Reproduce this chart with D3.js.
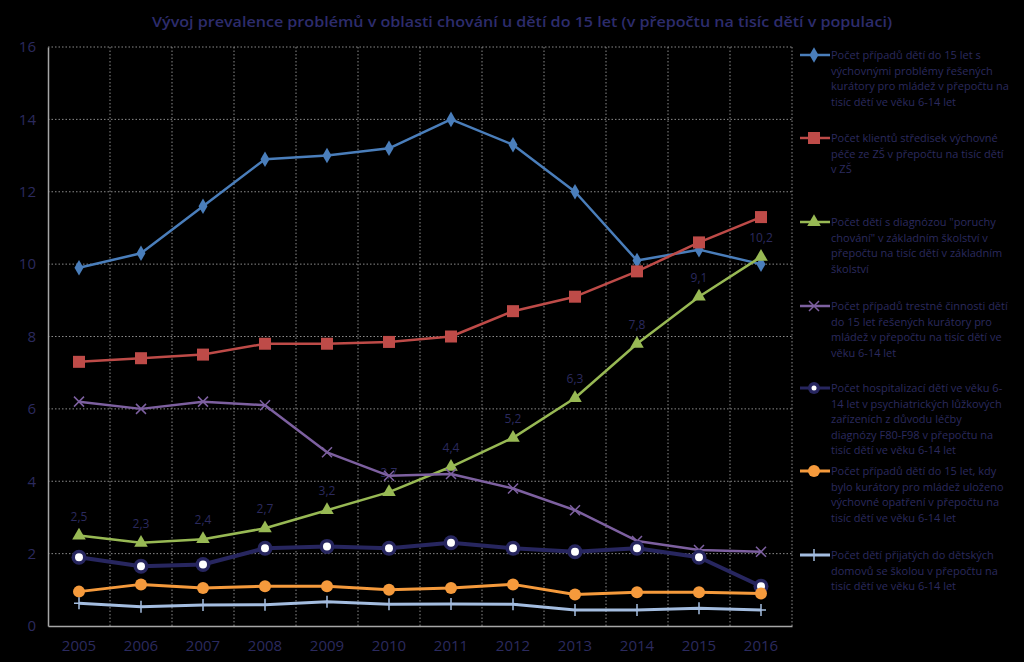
<!DOCTYPE html>
<html><head><meta charset="utf-8">
<script src="https://cdn.jsdelivr.net/npm/d3@7"></script>
<style>
html,body{margin:0;padding:0;background:#000;}
svg{display:block;}
text{font-family:"Open Sans","Noto Sans",sans-serif;}
</style></head>
<body>
<svg id="chart" width="1024" height="662"></svg>
<script>
const title = "Vývoj prevalence problémů v oblasti chování u dětí do 15 let (v přepočtu na tisíc dětí v populaci)";
const years = ["2005","2006","2007","2008","2009","2010","2011","2012","2013","2014","2015","2016"];
const yTicks = [0,2,4,6,8,10,12,14,16];

const s1 = [9.9,10.3,11.6,12.9,13.0,13.2,14.0,13.3,12.0,10.1,10.4,10.0];
const s2 = [7.3,7.4,7.5,7.8,7.8,7.85,8.0,8.7,9.1,9.8,10.6,11.3];
const s3 = [2.5,2.3,2.4,2.7,3.2,3.7,4.4,5.2,6.3,7.8,9.1,10.2];
const s4 = [6.2,6.0,6.2,6.1,4.8,4.15,4.2,3.8,3.2,2.35,2.1,2.05];
const s5 = [1.9,1.65,1.7,2.15,2.2,2.15,2.3,2.15,2.05,2.15,1.9,1.1];
const s6 = [0.95,1.15,1.05,1.1,1.1,1.0,1.05,1.15,0.87,0.93,0.93,0.9];
const s7 = [0.63,0.53,0.58,0.59,0.67,0.6,0.61,0.6,0.44,0.44,0.49,0.44];

const names = [
  ["Počet případů dětí do 15 let s","výchovnými  problémy řešených","kurátory pro mládež v přepočtu na","tisíc dětí ve věku 6-14 let"],
  ["Počet klientů středisek výchovné","péče ze ZŠ v přepočtu na tisíc dětí","v ZŠ"],
  ["Počet dětí s diagnózou \"poruchy","chování\" v základním školství v","přepočtu na tisíc dětí v základním","školství"],
  ["Počet případů trestné činnosti dětí","do 15 let  řešených kurátory pro","mládež v přepočtu na tisíc dětí ve","věku 6-14 let"],
  ["Počet hospitalizací dětí ve věku 6-","14 let v psychiatrických lůžkových","zařízeních  z důvodu léčby","diagnózy F80-F98 v přepočtu na","tisíc dětí ve věku 6-14 let"],
  ["Počet případů dětí do 15 let, kdy","bylo kurátory pro mládež uloženo","výchovné opatření v přepočtu na","tisíc dětí ve věku 6-14 let"],
  ["Počet dětí přijatých do dětských","domovů se školou v přepočtu na","tisíc dětí ve věku 6-14 let"]
];

const series = [
  {values:s1, color:"#4a7ebb", width:2.5, marker:"diamond"},
  {values:s2, color:"#be4b48", width:2.5, marker:"square"},
  {values:s3, color:"#98b954", width:2.5, marker:"triangle", labels:true},
  {values:s4, color:"#7d60a0", width:2.5, marker:"x"},
  {values:s5, color:"#27265f", width:4, marker:"ring"},
  {values:s6, color:"#f59a3c", width:3, marker:"circle"},
  {values:s7, color:"#a4bde0", width:3, marker:"plus"}
];
const legendY = [55, 138, 222, 306, 388, 471, 555];

const textColor = "#2b2a5e";
const svg = d3.select("#chart");
const m = {l:48, r:792, t:47, b:626};

const x = d3.scaleBand().domain(years).range([m.l, m.r]);
const y = d3.scaleLinear().domain([0,16]).range([m.b, m.t]);

// gridlines
const grid = svg.append("g");
grid.selectAll("line.h").data(yTicks.filter(d=>d>0)).join("line")
  .attr("x1", m.l).attr("x2", m.r).attr("y1", d=>y(d)).attr("y2", d=>y(d))
  .attr("stroke","#8a8a8a").attr("stroke-width",1).attr("stroke-dasharray","1.5,2");
grid.selectAll("line.v").data(years.map(d=>x(d)+x.bandwidth())).join("line")
  .attr("x1", d=>d).attr("x2", d=>d).attr("y1", m.t).attr("y2", m.b)
  .attr("stroke","#8a8a8a").attr("stroke-width",1).attr("stroke-dasharray","1.5,2");

// data labels for green series (drawn beneath lines)
const lab = svg.append("g");
series.filter(s=>s.labels).forEach(s => {
  s.values.forEach((v,i) => {
    lab.append("text").attr("x", x(years[i]) + x.bandwidth()/2).attr("y", y(v)-15).attr("text-anchor","middle")
      .attr("fill", textColor).style("font-size","12px").text(String(v).replace(".",","));
  });
});

// axes
const yAxis = svg.append("g").attr("transform",`translate(${m.l},0)`)
  .call(d3.axisLeft(y).tickValues(yTicks).tickSize(0).tickPadding(12));
yAxis.select(".domain").attr("stroke","#a6a6a6").attr("stroke-width",1.5);
yAxis.selectAll("text").attr("fill",textColor).style("font-size","15px");

const xAxis = svg.append("g").attr("transform",`translate(0,${m.b})`)
  .call(d3.axisBottom(x).tickSize(0).tickPadding(14));
xAxis.select(".domain").attr("stroke","#a6a6a6").attr("stroke-width",1.5);
xAxis.selectAll("text").attr("fill",textColor).style("font-size","15px");

// title
svg.append("text").attr("x", 522).attr("y", 27).attr("text-anchor","middle")
  .attr("fill","#2d2c6c").style("font-size","15px").style("font-weight","600")
  .attr("textLength", 740).attr("lengthAdjust","spacingAndGlyphs").text(title);

function drawMarker(g, type, cx, cy, color, small) {
  if (type==="diamond") {
    g.append("path").attr("d", d3.symbol(d3.symbolDiamond, 70)()).attr("transform",`translate(${cx},${cy})`).attr("fill",color);
  } else if (type==="square") {
    g.append("rect").attr("x",cx-6).attr("y",cy-6).attr("width",12).attr("height",12).attr("fill",color);
  } else if (type==="triangle") {
    g.append("path").attr("d", d3.symbol(d3.symbolTriangle, 80)()).attr("transform",`translate(${cx},${cy})`).attr("fill",color);
  } else if (type==="x") {
    g.append("path").attr("d",`M${cx-5},${cy-5}L${cx+5},${cy+5}M${cx-5},${cy+5}L${cx+5},${cy-5}`).attr("stroke",color).attr("stroke-width",1.5);
  } else if (type==="ring") {
    g.append("circle").attr("cx",cx).attr("cy",cy).attr("r",small?6:7.5).attr("fill",color);
    g.append("circle").attr("cx",cx).attr("cy",cy).attr("r",small?2.5:4).attr("fill","#fff");
  } else if (type==="circle") {
    g.append("circle").attr("cx",cx).attr("cy",cy).attr("r",6).attr("fill",color);
  } else if (type==="plus") {
    g.append("path").attr("d",`M${cx-5},${cy}L${cx+5},${cy}M${cx},${cy-6}L${cx},${cy+6}`).attr("stroke",color).attr("stroke-width",1.5);
  }
}

const cxOf = (i) => x(years[i]) + x.bandwidth()/2;
const line = d3.line().x((d,i)=>cxOf(i)).y(d=>y(d));

series.forEach(s => {
  const g = svg.append("g");
  g.append("path").datum(s.values).attr("d", line).attr("fill","none")
    .attr("stroke", s.color).attr("stroke-width", s.width).attr("stroke-linejoin","round");
  s.values.forEach((v,i) => drawMarker(g, s.marker, cxOf(i), y(v), s.color));
});

// legend
const leg = svg.append("g");
series.forEach((s,k) => {
  const ly = legendY[k];
  leg.append("line").attr("x1",800).attr("x2",830).attr("y1",ly).attr("y2",ly)
    .attr("stroke",s.color).attr("stroke-width", Math.min(s.width,3));
  drawMarker(leg, s.marker, 814, ly, s.color, true);
  const t = leg.append("text").attr("x",831).attr("y",ly+4).attr("fill",textColor).style("font-size","11px");
  names[k].forEach((ln,j) => {
    t.append("tspan").attr("x",831).attr("dy", j===0?0:15.5).text(ln);
  });
});
</script>
</body></html>
